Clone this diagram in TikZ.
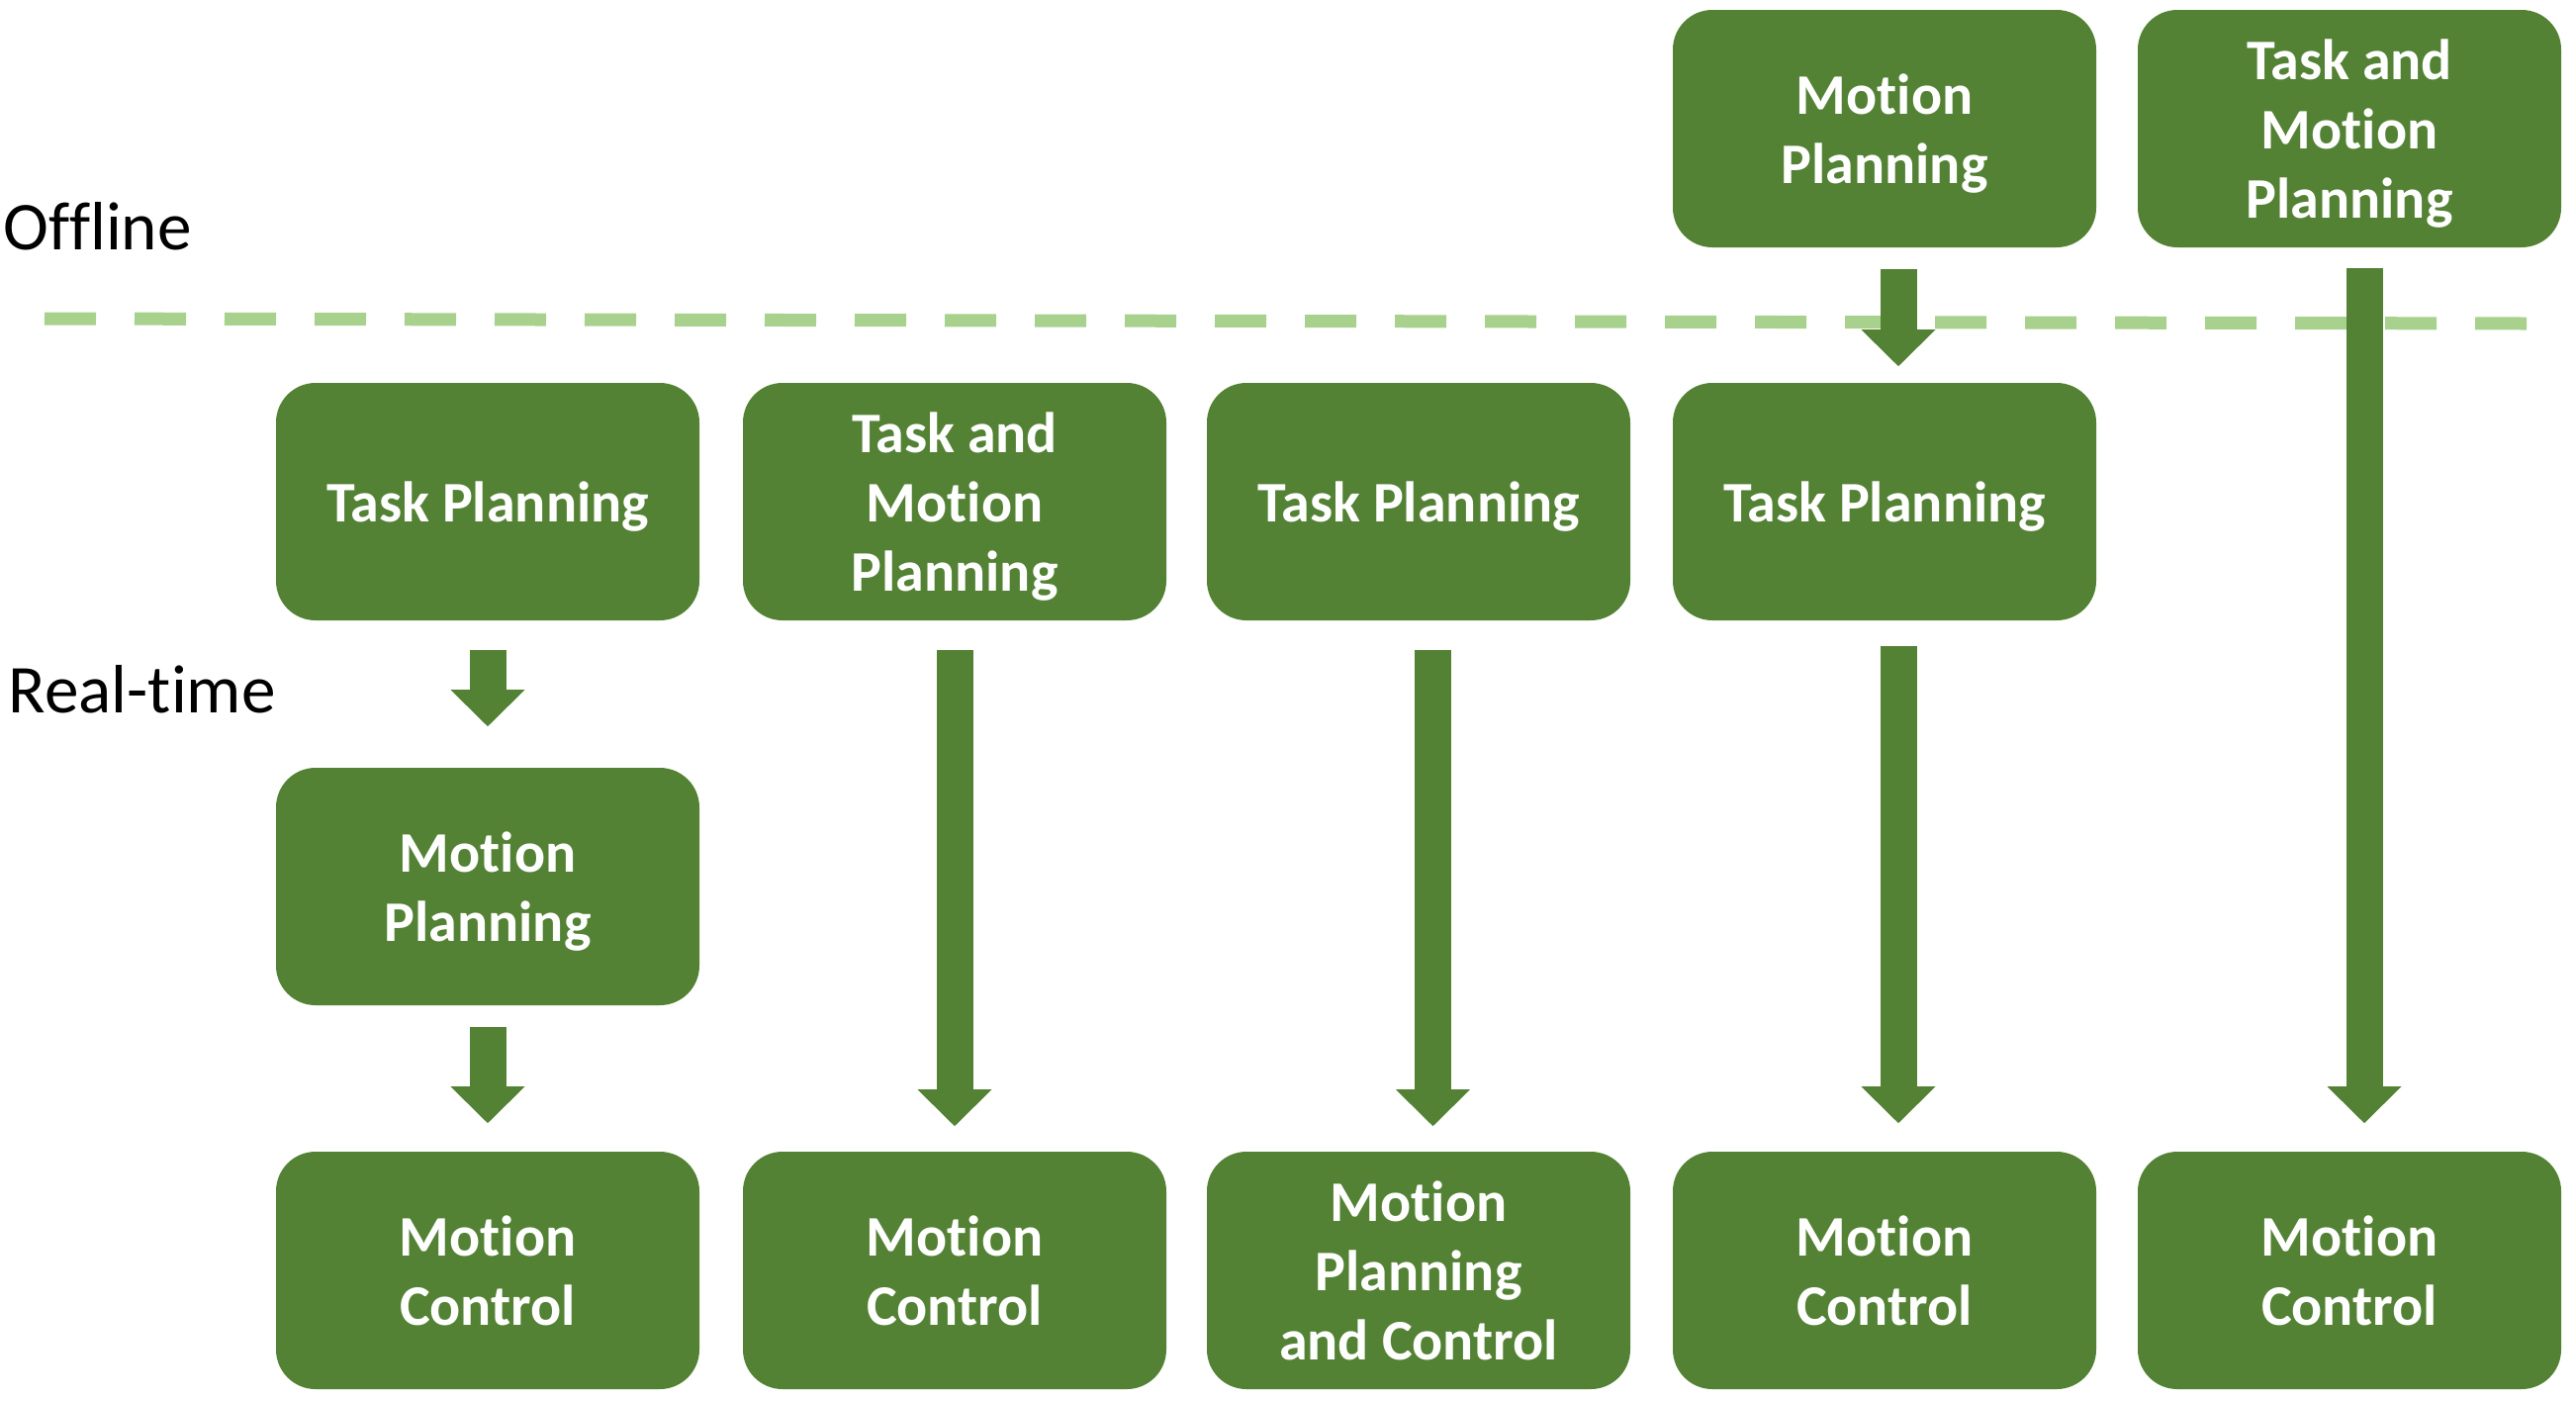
\documentclass[tikz,border=0pt]{standalone}
\usepackage{fontspec}
\setmainfont{Carlito}[Ligatures=CommonOff]
\usetikzlibrary{arrows.meta,calc}
\definecolor{boxgreen}{RGB}{84,130,53}
\definecolor{dashgreen}{RGB}{169,209,142}
\newcommand{\tstrut}{\rule{0pt}{13.7pt}}
\begin{document}
\begin{tikzpicture}[x=0.25pt,y=-0.25pt,
  blk/.style={fill=boxgreen, rounded corners=10pt, minimum width=107pt, minimum height=60pt,
    inner sep=0pt, align=center, text=white, font=\fontsize{14.5}{17.4}\selectfont\bfseries,
    execute at end node={\rule[-3.5pt]{0pt}{0pt}}},
  lbl/.style={inner sep=0pt, anchor=base west, font=\fontsize{17.3}{21}\selectfont},
  barrow/.style={draw=boxgreen, line width=9.25pt,
    -{Triangle[width=18.75pt,length=9.25pt,line width=0pt]}},
  sepline/.style={draw=dashgreen, line width=3.25pt, dash pattern=on 13pt off 9.75pt}
]
\useasboundingbox (0,0) rectangle (2604,1415);

% labels
\node[lbl] (off) at (3,252) {Offline};
\node[lbl] (rt) at (8,720) {Real-time};

% separator
\coordinate (sepL) at (45,322);
\coordinate (sepR) at (2554,327);
\draw[sepline] (sepL) -- (sepR);

% top row (offline)
\node[blk] (mpo4) at (1905,130) {\tstrut Motion\\Planning};
\node[blk] (tmo5) at (2375,130) {\tstrut Task and\\Motion\\Planning};

% second row
\node[blk] (tp1) at (493,507) {\tstrut Task Planning};
\node[blk] (tm2) at (965,507) {\tstrut Task and\\Motion\\Planning};
\node[blk] (tp3) at (1434,507) {\tstrut Task Planning};
\node[blk] (tp4) at (1905,507) {\tstrut Task Planning};

% third row
\node[blk] (mp1) at (493,896) {\tstrut Motion\\Planning};

% bottom row
\node[blk] (mc1) at (493,1284) {\tstrut Motion\\Control};
\node[blk] (mc2) at (965,1284) {\tstrut Motion\\Control};
\node[blk] (mpc3) at (1434,1284) {\tstrut Motion\\Planning\\and Control};
\node[blk] (mc4) at (1905,1284) {\tstrut Motion\\Control};
\node[blk] (mc5) at (2375,1284) {\tstrut Motion\\Control};

% arrows
\draw[barrow, shorten <=7.25pt, shorten >=10.25pt] (tp1.south) -- (mp1.north);
\draw[barrow, shorten <=5.25pt, shorten >=7pt] (mp1.south) -- (mc1.north);
\draw[barrow, shorten <=7.25pt, shorten >=6.25pt] (tm2.south) -- (mc2.north);
\draw[barrow, shorten <=7.25pt, shorten >=6.25pt] ($(tp3.south)+(14.5,0)$) -- ($(mpc3.north)+(14.5,0)$);
\draw[barrow, shorten <=6.25pt, shorten >=7pt] ($(tp4.south)+(14,0)$) -- ($(mc4.north)+(14,0)$);
\draw[barrow, shorten <=5.25pt, shorten >=4pt] ($(mpo4.south)+(14,0)$) -- ($(tp4.north)+(14,0)$);
\draw[barrow, shorten <=5pt, shorten >=7pt] ($(tmo5.south)+(15,0)$) -- ($(mc5.north)+(15,0)$);
\end{tikzpicture}
\end{document}
